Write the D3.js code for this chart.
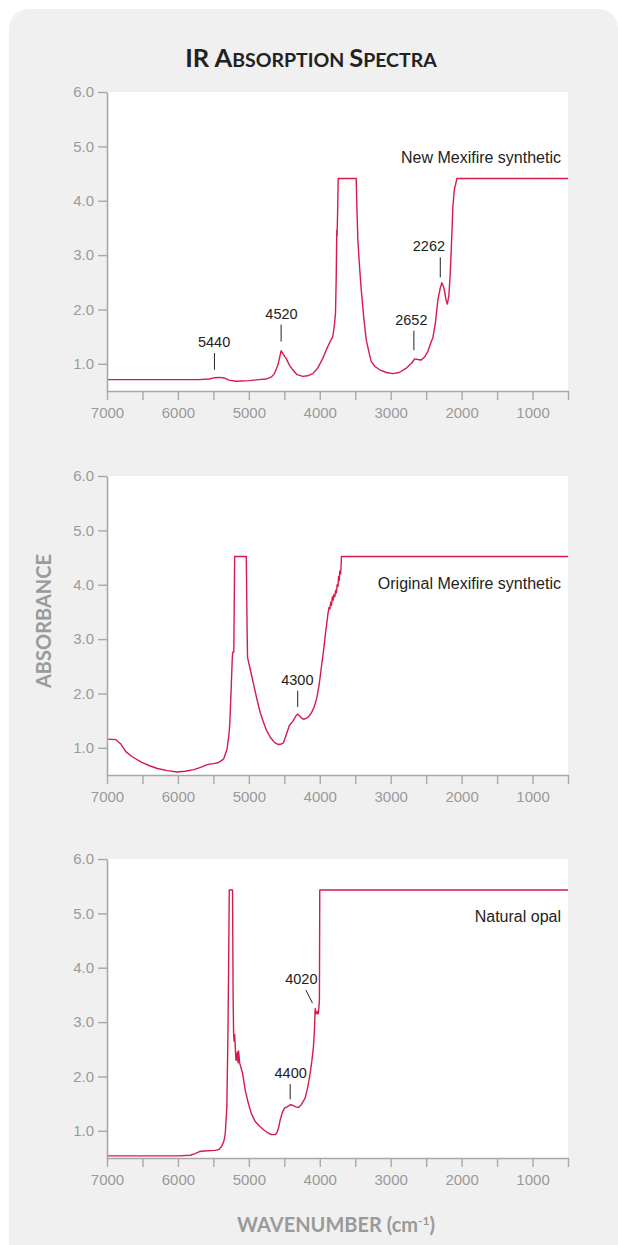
<!DOCTYPE html>
<html>
<head>
<meta charset="utf-8">
<script src="https://cdn.jsdelivr.net/npm/d3@7"></script>
<style>
  body { margin: 0; background: #fff; }
  svg { display: block; }
</style>
</head>
<body>
<svg id="chart" width="618" height="1245"></svg>
<script>
// wavenumber (cm-1) / absorbance
var newWn  = [7000, 6500, 6000, 5700, 5560, 5480, 5415, 5350, 5280, 5180, 5000, 4860, 4756, 4680, 4639, 4590, 4560, 4545, 4525, 4500, 4474, 4430, 4381, 4320, 4240, 4170, 4099, 4030, 3957, 3900, 3850, 3816, 3795, 3778, 3768, 3760, 3756, 3748, 3740, 3486, 3475, 3463, 3440, 3415, 3380, 3345, 3300, 3274, 3220, 3157, 3060, 2969, 2880, 2780, 2700, 2663, 2620, 2569, 2520, 2475, 2430, 2405, 2370, 2334, 2300, 2278, 2250, 2220, 2202, 2180, 2160, 2140, 2123, 2110, 2099, 2085, 2066, 500];
var newAbs = [0.71, 0.71, 0.71, 0.71, 0.72, 0.745, 0.75, 0.74, 0.70, 0.68, 0.69, 0.71, 0.72, 0.76, 0.82, 0.98, 1.15, 1.24, 1.20, 1.14, 1.10, 0.98, 0.89, 0.80, 0.77, 0.78, 0.82, 0.92, 1.10, 1.28, 1.42, 1.50, 1.70, 1.93, 2.60, 3.46, 3.35, 3.80, 4.41, 4.41, 3.80, 3.28, 2.80, 2.36, 1.85, 1.44, 1.18, 1.04, 0.95, 0.89, 0.84, 0.82, 0.84, 0.92, 1.02, 1.09, 1.08, 1.07, 1.13, 1.23, 1.40, 1.48, 1.75, 2.18, 2.40, 2.49, 2.40, 2.18, 2.10, 2.25, 2.67, 3.30, 3.89, 4.10, 4.23, 4.30, 4.41, 4.41];

var origWn  = [7000, 6874, 6804, 6734, 6650, 6523, 6400, 6289, 6150, 6009, 5900, 5776, 5680, 5588, 5500, 5447, 5400, 5354, 5307, 5280, 5270, 5251, 5235, 5228, 5212, 5200, 5036, 5025, 5018, 4971, 4930, 4887, 4840, 4794, 4750, 4700, 4640, 4583, 4540, 4513, 4470, 4429, 4373, 4340, 4312, 4280, 4240, 4209, 4160, 4115, 4080, 4045, 4010, 3975, 3950, 3929, 3905, 3882, 3870, 3858, 3845, 3835, 3822, 3810, 3800, 3788, 3775, 3765, 3755, 3742, 3735, 3725, 3718, 3705, 3694, 500];
var origAbs = [1.16, 1.15, 1.07, 0.93, 0.84, 0.74, 0.67, 0.62, 0.58, 0.555, 0.57, 0.60, 0.64, 0.69, 0.71, 0.72, 0.75, 0.80, 0.98, 1.25, 1.41, 2.02, 2.60, 2.76, 2.76, 4.52, 4.52, 3.20, 2.66, 2.39, 2.15, 1.90, 1.65, 1.47, 1.32, 1.20, 1.10, 1.06, 1.07, 1.09, 1.25, 1.41, 1.50, 1.58, 1.62, 1.58, 1.53, 1.53, 1.57, 1.65, 1.75, 1.90, 2.15, 2.51, 2.75, 3.00, 3.25, 3.49, 3.58, 3.55, 3.68, 3.62, 3.78, 3.72, 3.82, 3.78, 3.90, 3.85, 4.00, 3.97, 4.15, 4.08, 4.25, 4.20, 4.52, 4.52];

var opalWn  = [7000, 6500, 6000, 5826, 5755, 5690, 5638, 5473, 5420, 5380, 5350, 5332, 5310, 5296, 5286, 5276, 5230, 5222, 5215, 5208, 5200, 5190, 5182, 5176, 5169, 5160, 5152, 5145, 5130, 5089, 5051, 5010, 4966, 4910, 4850, 4793, 4730, 4676, 4630, 4606, 4580, 4558, 4530, 4497, 4460, 4417, 4380, 4340, 4300, 4260, 4206, 4170, 4135, 4110, 4089, 4075, 4065, 4055, 4040, 4025, 4018, 4005, 4000, 500];
var opalAbs = [0.54, 0.54, 0.54, 0.55, 0.58, 0.62, 0.63, 0.64, 0.66, 0.72, 0.82, 0.96, 1.45, 2.68, 3.90, 5.43, 5.43, 3.50, 2.80, 2.65, 2.77, 2.50, 2.30, 2.42, 2.30, 2.45, 2.25, 2.47, 2.25, 2.06, 1.75, 1.52, 1.32, 1.17, 1.09, 1.02, 0.96, 0.93, 0.93, 0.96, 1.06, 1.20, 1.33, 1.42, 1.44, 1.48, 1.47, 1.44, 1.43, 1.48, 1.60, 1.80, 2.06, 2.30, 2.55, 2.85, 3.25, 3.15, 3.20, 3.15, 3.18, 3.40, 5.43, 5.43];

var seriesNames = ["New Mexifire synthetic", "Original Mexifire synthetic", "Natural opal"];

// peak labels: text, pointer foot wavenumber, foot absorbance, top absorbance, top wavenumber, label-centre wavenumber
var newPeaks  = [["5440", 5485, 0.89, 1.20, 5485, 5490], ["4520", 4545, 1.41, 1.72, 4545, 4540], ["2652", 2673, 1.25, 1.61, 2673, 2709], ["2262", 2301, 2.59, 2.96, 2301, 2461]];
var origPeaks = [["4300", 4311, 1.75, 2.05, 4311, 4316]];
var opalPeaks = [["4400", 4417, 1.58, 1.86, 4417, 4410], ["4020", 4103, 3.35, 3.59, 4197, 4260]];

var xTicks = d3.range(7000, 499, -500);
var yTicks = [1, 2, 3, 4, 5, 6];

var svg = d3.select("#chart");

svg.append("rect")
    .attr("x", 9).attr("y", 9)
    .attr("width", 609).attr("height", 1300)
    .attr("rx", 20)
    .attr("fill", "#f0f0f0");

var title = svg.append("text")
    .attr("x", 311).attr("y", 67)
    .attr("text-anchor", "middle")
    .style("font-family", "Lato, 'Open Sans', sans-serif")
    .style("font-weight", "bold")
    .attr("fill", "#222");
title.append("tspan").style("font-size", "25.5px").text("IR A");
title.append("tspan").style("font-size", "19.5px").text("BSORPTION ");
title.append("tspan").style("font-size", "25.5px").text("S");
title.append("tspan").style("font-size", "19.5px").text("PECTRA");

var left = 107, right = 568, plotH = 299;
var tops = [92, 476, 859];
var labelY = [71, 113, 63];
var sans = "'Liberation Sans', Arial, Helvetica, sans-serif";

var x = d3.scaleLinear().domain([7000, 500]).range([left, right]);

var panels = [
    { wn: newWn, abs: newAbs, peaks: newPeaks },
    { wn: origWn, abs: origAbs, peaks: origPeaks },
    { wn: opalWn, abs: opalAbs, peaks: opalPeaks }
];

panels.forEach(function(p, i){
    var top = tops[i];
    var y = d3.scaleLinear().domain([0.5, 6]).range([top + plotH, top]);
    var g = svg.append("g");

    g.append("rect")
        .attr("x", left).attr("y", top)
        .attr("width", right - left).attr("height", plotH)
        .attr("fill", "#fff");

    var pts = d3.zip(p.wn, p.abs);
    var line = d3.line()
        .x(function(d){ return x(d[0]); })
        .y(function(d){ return y(d[1]); });

    g.append("path")
        .datum(pts)
        .attr("d", line)
        .attr("fill", "none")
        .attr("stroke", "#d8194b")
        .attr("stroke-width", 1.4)
        .attr("stroke-linejoin", "round");

    var yAxis = g.append("g")
        .attr("transform", "translate(" + left + ",0)")
        .call(d3.axisLeft(y).tickValues(yTicks).tickFormat(d3.format(".1f")).tickSize(9).tickSizeOuter(0).tickPadding(4));

    var xAxis = g.append("g")
        .attr("transform", "translate(0," + (top + plotH) + ")")
        .call(d3.axisBottom(x).tickValues(xTicks)
            .tickFormat(function(d){ return d % 1000 === 0 ? d : ""; })
            .tickSize(9).tickSizeOuter(0).tickPadding(7));

    [yAxis, xAxis].forEach(function(a){
        a.select(".domain").attr("stroke", "#a8a8a8").attr("stroke-width", 1.6);
        a.selectAll(".tick line").attr("stroke", "#a8a8a8").attr("stroke-width", 1.4);
        a.selectAll(".tick text")
            .attr("fill", "#9a9a9a")
            .style("font-family", sans)
            .style("font-size", "15px");
    });

    g.append("text")
        .attr("x", 561).attr("y", top + labelY[i])
        .attr("text-anchor", "end")
        .style("font-family", sans)
        .style("font-size", "16px")
        .attr("fill", "#222")
        .text(seriesNames[i]);

    p.peaks.forEach(function(k){
        g.append("line")
            .attr("x1", x(k[1])).attr("y1", y(k[2]))
            .attr("x2", x(k[4])).attr("y2", y(k[3]))
            .attr("stroke", "#222").attr("stroke-width", 1);
        g.append("text")
            .attr("x", x(k[5])).attr("y", y(k[3]) - 6)
            .attr("text-anchor", "middle")
            .style("font-family", sans)
            .style("font-size", "14.5px")
            .attr("fill", "#222")
            .text(k[0]);
    });
});

svg.append("text")
    .attr("transform", "translate(51,621) rotate(-90)")
    .attr("text-anchor", "middle")
    .style("font-family", "Lato, 'Open Sans', sans-serif")
    .style("font-weight", "bold")
    .style("font-size", "20px")
    .attr("fill", "#9a9a9a")
    .text("ABSORBANCE");

var xt = svg.append("text")
    .attr("x", 336).attr("y", 1232)
    .attr("text-anchor", "middle")
    .style("font-family", "Lato, 'Open Sans', sans-serif")
    .style("font-weight", "bold")
    .style("font-size", "20px")
    .attr("fill", "#9a9a9a");
xt.append("tspan").text("WAVENUMBER (cm");
xt.append("tspan").attr("dy", -7).style("font-size", "12px").text("-1");
xt.append("tspan").attr("dy", 7).text(")");
</script>
</body>
</html>
